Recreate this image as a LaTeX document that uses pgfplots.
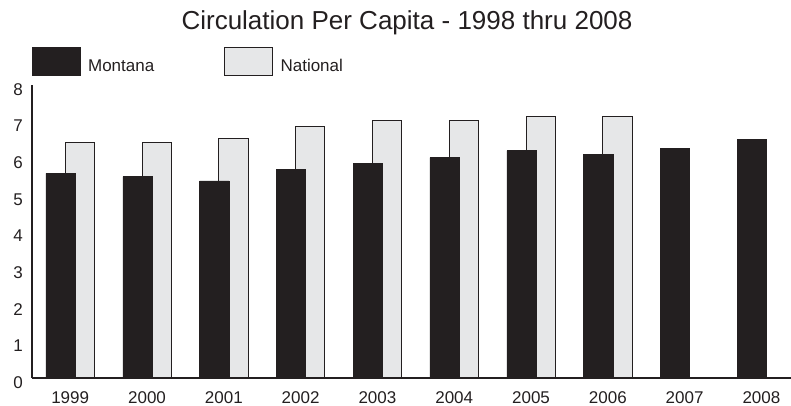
\documentclass[border=0pt]{standalone}
\usepackage{pgfplots}
\pgfplotsset{compat=1.18}
\usepackage{fontspec}
\setmainfont{Liberation Sans}
\definecolor{mtblack}{HTML}{231F20}
\definecolor{natgray}{HTML}{E6E7E8}
\pgfplotsset{
  mylegend/.style={legend image code/.code={\draw[##1, line width=0.8pt] (0pt,-3.4pt) rectangle (48.3pt,25pt);}}
}
\begin{document}
\begin{tikzpicture}
\path[use as bounding box] (-32.3pt,-28pt) rectangle (758.7pt,378pt);
\begin{axis}[
  scale only axis, width=758.7pt, height=293pt,
  at={(0pt,0pt)}, anchor=south west,
  xmin=-0.4935, xmax=9.385, ymin=0, ymax=8,
  axis x line*=bottom, axis y line*=left,
  axis line style={draw=mtblack, line width=1.8pt, -},
  major tick length=0pt,
  xtick={0,...,9},
  xticklabels={1999,2000,2001,2002,2003,2004,2005,2006,2007,2008},
  ytick={0,...,8},
  tick label style={font=\fontsize{17}{17}\selectfont, text=mtblack},
  /pgf/number format/assume math mode=true,
  yticklabel style={xshift=-6pt, yshift=-4.5pt},
  xticklabel style={yshift=-10.5pt},
  title={Circulation Per Capita - 1998 thru 2008},
  title style={at={(0.4939,1)}, anchor=base, yshift=50pt, font=\fontsize{26}{26}\selectfont, text=mtblack},
  axis on top,
  legend columns=2, reverse legend,
  legend style={draw=none, fill=none, inner sep=0pt, outer sep=0pt,
    at={(0,1)}, anchor=south west, xshift=-0.6pt, yshift=9.3pt,
    font=\fontsize{17}{17}\selectfont, text=mtblack,
    /tikz/every odd column/.append style={column sep=7.3pt},
    /tikz/every even column/.append style={column sep=69.9pt},
    nodes={inner sep=0pt, anchor=base west}},
]
\addplot[ybar, bar width=0.38, bar shift=0.1257, fill=natgray, draw=mtblack, line width=0.8pt, mylegend]
  coordinates {(0,6.44) (1,6.44) (2,6.53) (3,6.88) (4,7.04) (5,7.04) (6,7.14) (7,7.14)};
\addlegendentry{National}
\addplot[ybar, bar width=0.38, bar shift=-0.1257, fill=mtblack, draw=mtblack, line width=0.4pt, mylegend]
  coordinates {(0,5.59) (1,5.50) (2,5.38) (3,5.69) (4,5.87) (5,6.02) (6,6.21) (7,6.11) (8,6.27) (9,6.51)};
\addlegendentry{Montana}
\end{axis}
\end{tikzpicture}
\end{document}
